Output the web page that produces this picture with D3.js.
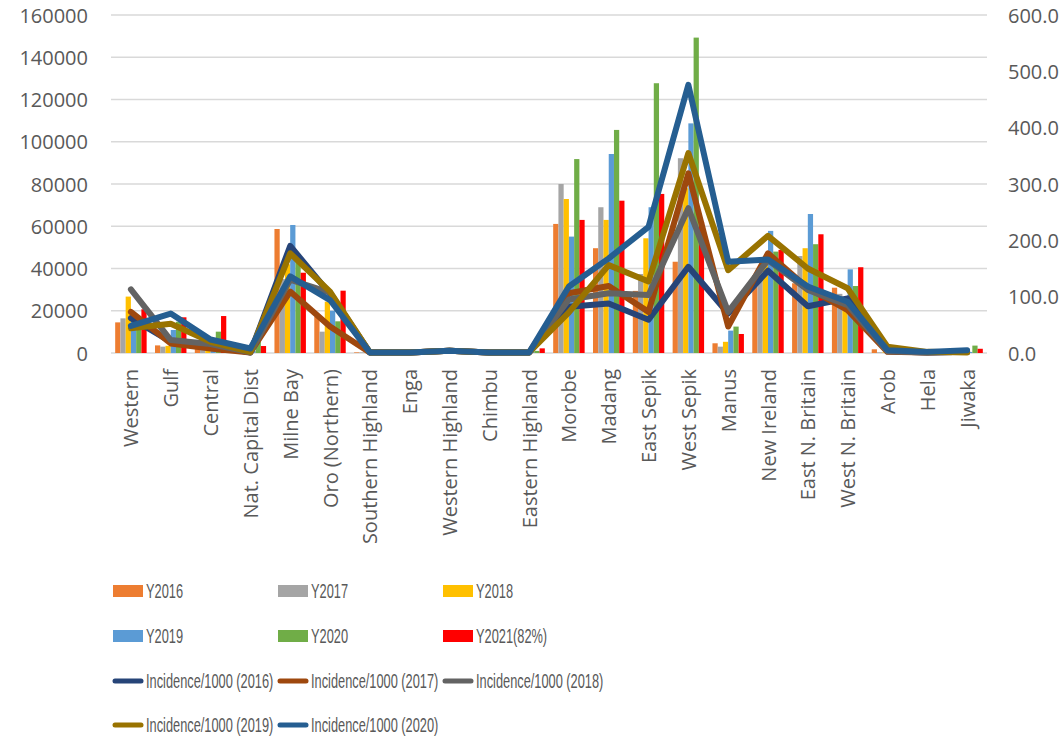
<!DOCTYPE html>
<html>
<head>
<meta charset="utf-8">
<script src="https://cdn.jsdelivr.net/npm/d3@7"></script>
<style>
  html, body { margin: 0; padding: 0; background: #ffffff; }
  svg { display: block; }
  .tick-label { font-family: "Open Sans", "DejaVu Sans", sans-serif; fill: #595959; }
  .legend-label { font-family: "Liberation Sans", Arial, sans-serif; fill: #595959; }
</style>
</head>
<body>
<svg id="chart" width="1063" height="740"></svg>
<script>
// Provinces along the x axis
const categories = ["Western", "Gulf", "Central", "Nat. Capital Dist", "Milne Bay", "Oro (Northern)",
  "Southern Highland", "Enga", "Western Highland", "Chimbu", "Eastern Highland", "Morobe", "Madang",
  "East Sepik", "West Sepik", "Manus", "New Ireland", "East N. Britain", "West N. Britain", "Arob", "Hela", "Jiwaka"];

// Case counts per year (left axis)
const y2016 = [14500, 3600, 2000, 500, 58700, 17200, 300, 200, 600, 200, 300, 61100, 49600, 29400, 43200, 4600, 34000, 33000, 30900, 1750, 200, 300];
const y2017 = [16400, 3000, 1500, 500, 35000, 10100, 300, 200, 600, 200, 300, 80000, 69000, 37400, 92200, 3000, 40000, 45900, 28000, 300, 100, 200];
const y2018 = [26700, 3400, 2500, 800, 42000, 24300, 300, 200, 800, 200, 400, 72900, 63000, 54300, 78000, 5300, 45000, 49600, 26000, 300, 100, 300];
const y2019 = [18000, 10900, 3000, 1000, 60600, 20000, 400, 300, 900, 300, 500, 55100, 94200, 69000, 108700, 10600, 57800, 65800, 39600, 400, 200, 500];
const y2020 = [15000, 14800, 10100, 5300, 46900, 15000, 500, 300, 1000, 300, 1000, 91800, 105600, 127700, 149300, 12500, 48000, 51500, 31700, 500, 300, 3500];
const y2021 = [20700, 16900, 17500, 3300, 38000, 29500, 300, 200, 800, 200, 2200, 63000, 72100, 75300, 62000, 9000, 48800, 56200, 40600, 300, 200, 2000];

// Incidence per 1000 (right axis)
const inc2016 = [62, 20, 14, 1, 190, 105, 1, 1, 4, 1, 1, 82, 88, 59, 153, 70, 146, 83, 97, 3, 1, 2];
const inc2017 = [73, 17, 8, 1, 109, 47, 1, 1, 4, 1, 1, 106, 119, 73, 319, 47, 177, 115, 76, 2, 1, 2];
const inc2018 = [113, 23, 16, 1, 130, 107, 1, 1, 4, 1, 1, 95, 106, 103, 257, 73, 165, 112, 85, 3, 1, 2];
const inc2019 = [44, 52, 20, 2, 177, 109, 1, 1, 4, 1, 1, 72, 156, 127, 355, 147, 208, 150, 115, 11, 2, 1];
const inc2020 = [48, 70, 24, 8, 136, 94, 1, 1, 4, 1, 1, 118, 168, 224, 476, 162, 166, 118, 91, 5, 2, 5];

// Tick values
const leftTicks = [0, 20000, 40000, 60000, 80000, 100000, 120000, 140000, 160000];
const rightTicks = [0, 100, 200, 300, 400, 500, 600];

const barSeries = [
  { name: "Y2016", values: y2016, color: "#ED7D31" },
  { name: "Y2017", values: y2017, color: "#A5A5A5" },
  { name: "Y2018", values: y2018, color: "#FFC000" },
  { name: "Y2019", values: y2019, color: "#5B9BD5" },
  { name: "Y2020", values: y2020, color: "#70AD47" },
  { name: "Y2021(82%)", values: y2021, color: "#FF0000" }
];
const lineSeries = [
  { name: "Incidence/1000 (2016)", values: inc2016, color: "#264478" },
  { name: "Incidence/1000 (2017)", values: inc2017, color: "#9E480E" },
  { name: "Incidence/1000 (2018)", values: inc2018, color: "#636363" },
  { name: "Incidence/1000 (2019)", values: inc2019, color: "#997300" },
  { name: "Incidence/1000 (2020)", values: inc2020, color: "#255E91" }
];

const svg = d3.select("#chart");
const plot = { left: 111, right: 987, top: 15, bottom: 353 };

const x = d3.scaleBand().domain(categories).range([plot.left, plot.right]).paddingInner(0).paddingOuter(0);
const yLeft = d3.scaleLinear().domain([0, 160000]).range([plot.bottom, plot.top]);
const yRight = d3.scaleLinear().domain([0, 600]).range([plot.bottom, plot.top]);

const groupWidth = x.bandwidth() * 0.79;
const xInner = d3.scaleBand().domain(barSeries.map(s => s.name))
  .range([(x.bandwidth() - groupWidth) / 2, (x.bandwidth() + groupWidth) / 2]).padding(0);

// Horizontal gridlines
svg.append("g").selectAll("line").data(leftTicks).join("line")
  .attr("x1", plot.left).attr("x2", plot.right)
  .attr("y1", d => yLeft(d)).attr("y2", d => yLeft(d))
  .attr("stroke", "#D9D9D9").attr("stroke-width", 1.5);

// Left axis labels
svg.append("g").selectAll("text").data(leftTicks).join("text")
  .attr("class", "tick-label")
  .attr("x", 88).attr("y", d => yLeft(d))
  .attr("text-anchor", "end").attr("dominant-baseline", "central")
  .attr("font-size", 20)
  .text(d => d3.format("d")(d));

// Right axis labels
svg.append("g").selectAll("text").data(rightTicks).join("text")
  .attr("class", "tick-label")
  .attr("x", 1008).attr("y", d => yRight(d))
  .attr("text-anchor", "start").attr("dominant-baseline", "central")
  .attr("font-size", 20)
  .text(d => d3.format(".1f")(d));

// Clustered bars
const barGroups = svg.append("g").selectAll("g").data(barSeries).join("g")
  .attr("fill", d => d.color);
barGroups.selectAll("rect")
  .data(s => s.values.map((v, i) => ({ series: s.name, cat: categories[i], v })))
  .join("rect")
  .attr("x", d => x(d.cat) + xInner(d.series))
  .attr("width", xInner.bandwidth())
  .attr("y", d => yLeft(d.v))
  .attr("height", d => yLeft(0) - yLeft(d.v));

// Incidence lines on the secondary axis
const line = d3.line()
  .x((d, i) => x(categories[i]) + x.bandwidth() / 2)
  .y(d => yRight(d));
svg.append("g").selectAll("path").data(lineSeries).join("path")
  .attr("d", d => line(d.values))
  .attr("fill", "none")
  .attr("stroke", d => d.color)
  .attr("stroke-width", 6)
  .attr("stroke-linejoin", "round")
  .attr("stroke-linecap", "round");

// Rotated category labels
svg.append("g").selectAll("text").data(categories).join("text")
  .attr("class", "tick-label")
  .attr("font-size", 20)
  .attr("text-anchor", "end")
  .attr("dominant-baseline", "central")
  .attr("transform", d => `translate(${x(d) + x.bandwidth() / 2},369) rotate(-90)`)
  .text(d => d);

// Legend: three columns, bars first then lines
const legendItems = barSeries.map(s => ({ ...s, kind: "bar" }))
  .concat(lineSeries.map(s => ({ ...s, kind: "line" })));
const colX = [113, 278, 443];
const rowY = [591, 636, 681, 725];
const legend = svg.append("g").selectAll("g").data(legendItems).join("g")
  .attr("transform", (d, i) => `translate(${colX[i % 3]},${rowY[Math.floor(i / 3)]})`);
legend.filter(d => d.kind === "bar").append("rect")
  .attr("x", 0).attr("y", -6).attr("width", 30).attr("height", 12)
  .attr("fill", d => d.color);
legend.filter(d => d.kind === "line").append("line")
  .attr("x1", 2).attr("x2", 28).attr("y1", 0).attr("y2", 0)
  .attr("stroke", d => d.color).attr("stroke-width", 5)
  .attr("stroke-linecap", "round");
// Condensed legend lettering
legend.append("text")
  .attr("class", "legend-label")
  .attr("transform", "translate(33,0) scale(0.61,1)")
  .attr("dominant-baseline", "central")
  .attr("font-size", 21)
  .text(d => d.name);
</script>
</body>
</html>
